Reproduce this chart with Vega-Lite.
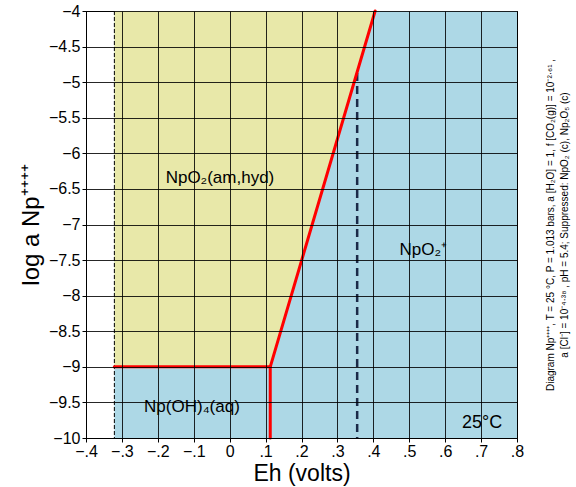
{
  "$schema": "https://vega.github.io/schema/vega-lite/v6.json",
  "width": 431,
  "height": 427,
  "autosize": {"type": "none"},
  "padding": {"left": 86, "top": 11, "right": 59, "bottom": 49},
  "background": "white",
  "config": {
    "font": "Liberation Sans",
    "view": {"stroke": "black", "strokeWidth": 1},
    "axis": {
      "domainColor": "black",
      "tickColor": "black",
      "tickSize": 4,
      "labelColor": "black",
      "titleColor": "black",
      "labelFont": "Liberation Sans",
      "titleFont": "Liberation Sans",
      "titleFontWeight": "normal"
    }
  },
  "datasets": {
    "bg": [{"x": -0.321, "x2": 0.8, "y": -10, "y2": -4}],
    "yellow": [
      {"x": -0.321, "y": -9, "y2": -4},
      {"x": 0.113, "y": -9, "y2": -4},
      {"x": 0.405, "y": -4, "y2": -4}
    ],
    "segs": [
      {"kind": "red", "x": -0.321, "y": -9, "x2": 0.113, "y2": -9},
      {"kind": "red", "x": 0.113, "y": -9, "x2": 0.405, "y2": -4},
      {"kind": "red", "x": 0.113, "y": -9, "x2": 0.113, "y2": -10},
      {"kind": "water", "x": -0.321, "y": -4, "x2": -0.321, "y2": -10},
      {"kind": "navy", "x": 0.355, "y": -4.87, "x2": 0.355, "y2": -10}
    ],
    "labels": [
      {"label": "NpO₂(am,hyd)", "x": -0.027, "y": -6.35, "size": 17},
      {"label": "NpO₂⁺", "x": 0.539, "y": -7.36, "size": 17},
      {"label": "Np(OH)₄(aq)", "x": -0.105, "y": -9.56, "size": 17},
      {"label": "25°C", "x": 0.703, "y": -9.79, "size": 18}
    ]
  },
  "resolve": {"axis": {"y": "independent"}},
  "encoding": {
    "x": {
      "field": "x", "type": "quantitative",
      "scale": {"domain": [-0.4, 0.8], "nice": false, "zero": false},
      "axis": {
        "title": "Eh (volts)",
        "grid": true,
        "gridColor": "#000000",
        "gridOpacity": 0.85,
        "gridWidth": 1,
        "zindex": 1,
        "titleFontSize": 23,
        "titlePadding": 3,
        "labelFontSize": 16,
        "labelPadding": 1,
        "labelOverlap": false,
        "values": [-0.4, -0.3, -0.2, -0.1, 0, 0.1, 0.2, 0.3, 0.4, 0.5, 0.6, 0.7, 0.8],
        "labelExpr": "datum.value == 0 ? '0' : (datum.value < 0 ? '−' : '') + replace(format(abs(datum.value), '.1f'), '0.', '.')",
        "labelFlush": false
      }
    }
  },
  "layer": [
    {
      "data": {"name": "bg"},
      "mark": {"type": "rect", "color": "#ADD8E6"},
      "encoding": {
        "x2": {"field": "x2"},
        "y": {
          "field": "y", "type": "quantitative",
          "scale": {"domain": [-10, -4], "nice": false, "zero": false},
          "axis": {
            "orient": "left",
            "title": "log a Np⁺⁺⁺⁺",
            "grid": true,
            "gridColor": "#000000",
            "gridOpacity": 0.85,
            "gridWidth": 1,
            "zindex": 1,
            "titleFontSize": 24,
            "titlePadding": 5,
            "labelFontSize": 16,
            "labelPadding": 2,
            "labelOverlap": false,
            "values": [-10, -9.5, -9, -8.5, -8, -7.5, -7, -6.5, -6, -5.5, -5, -4.5, -4],
            "labelExpr": "'−' + abs(datum.value)",
            "labelFlush": false
          }
        },
        "y2": {"field": "y2"}
      }
    },
    {
      "data": {"name": "yellow"},
      "mark": {"type": "area", "color": "#E8E8A9", "opacity": 1},
      "encoding": {
        "y": {"field": "y", "type": "quantitative", "axis": null},
        "y2": {"field": "y2"}
      }
    },
    {
      "data": {"name": "segs"},
      "transform": [{"filter": "datum.kind == 'water'"}],
      "mark": {"type": "rule", "color": "black", "strokeWidth": 1, "strokeDash": [4, 2]},
      "encoding": {
        "x2": {"field": "x2"},
        "y": {"field": "y", "type": "quantitative", "axis": null},
        "y2": {"field": "y2"}
      }
    },
    {
      "data": {"name": "segs"},
      "transform": [{"filter": "datum.kind == 'navy'"}],
      "mark": {"type": "rule", "color": "#1B2A48", "strokeWidth": 2.5, "strokeDash": [8, 5]},
      "encoding": {
        "x2": {"field": "x2"},
        "y": {"field": "y", "type": "quantitative", "axis": null},
        "y2": {"field": "y2"}
      }
    },
    {
      "data": {"name": "segs"},
      "transform": [{"filter": "datum.kind == 'red'"}],
      "mark": {"type": "rule", "color": "#FF0000", "strokeWidth": 3, "strokeCap": "round"},
      "encoding": {
        "x2": {"field": "x2"},
        "y": {"field": "y", "type": "quantitative", "axis": null},
        "y2": {"field": "y2"}
      }
    },
    {
      "data": {"name": "labels"},
      "mark": {"type": "text", "color": "black", "font": "Liberation Sans", "align": "center", "baseline": "middle"},
      "encoding": {
        "text": {"field": "label"},
        "size": {"field": "size", "type": "quantitative", "scale": null},
        "y": {
          "field": "y", "type": "quantitative",
          "axis": {
            "orient": "right",
            "labels": false,
            "ticks": false,
            "domain": false,
            "grid": false,
            "title": [
              "Diagram Np⁺⁺⁺⁺, T = 25 °C, P = 1.013 bars, a [H₂O] = 1, f [CO₂(g)] = 10⁻²·⁶¹ ,",
              "a [Cl⁻] = 10⁻⁴·³⁸ , pH = 5.4; Suppressed: NpO₂ (c), Np₂O₅ (c)"
            ],
            "titleAngle": 270,
            "titleFontSize": 10,
            "titleLineHeight": 14,
            "titlePadding": 24
          }
        }
      }
    }
  ]
}
